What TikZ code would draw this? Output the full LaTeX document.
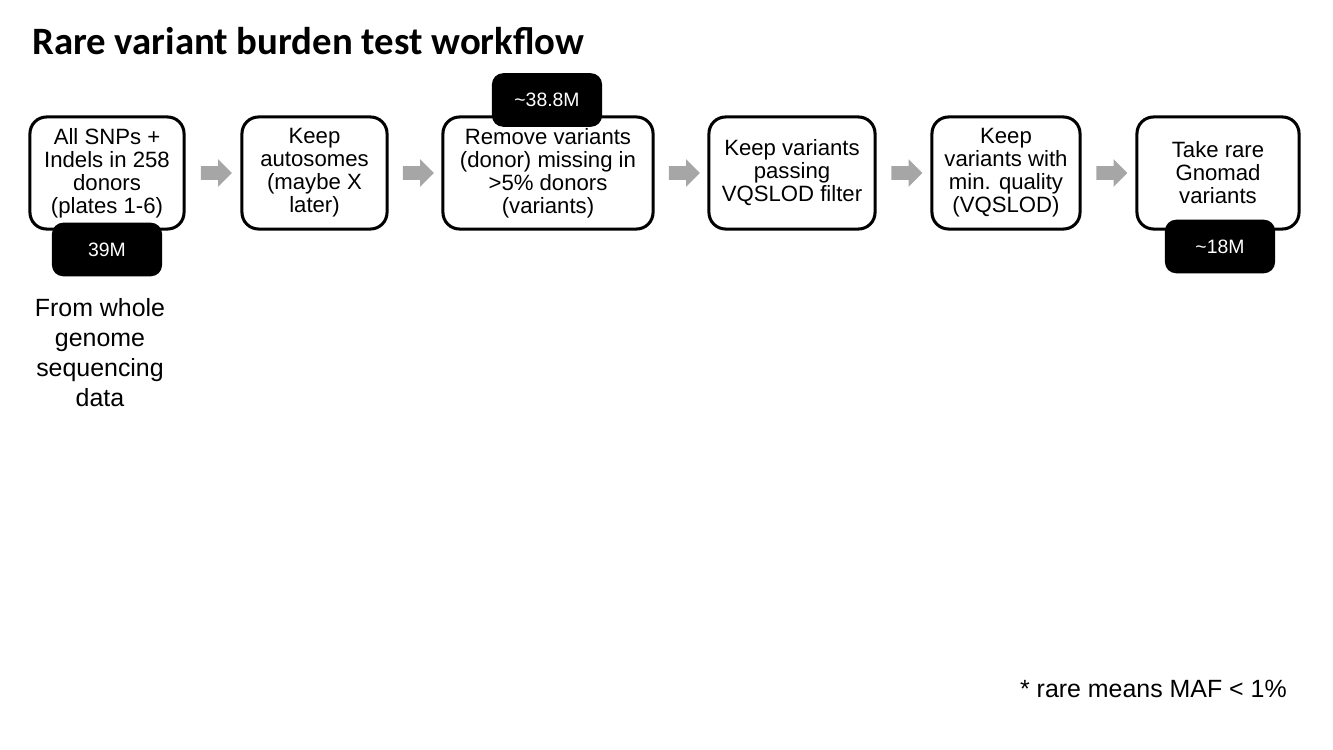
\documentclass[tikz,border=0pt]{standalone}
\usepackage{fontspec}
\setmainfont{Liberation Sans}
\newfontfamily\titlefont{Carlito}
\usetikzlibrary{shapes.arrows,calc}
\definecolor{arrowgray}{HTML}{A6A6A6}
\tikzset{
  stepbox/.style={draw=black, line width=2.2pt, rounded corners=12pt, fill=white,
    align=center, inner sep=0pt, minimum height=1.12in,
    font=\fontsize{16}{16.6}\selectfont},
  countbox/.style={fill=black, text=white, rounded corners=8pt, inner sep=0pt,
    minimum width=1.10in, minimum height=0.535in,
    font=\fontsize{14}{16}\selectfont},
  flowarrow/.style={single arrow, fill=arrowgray, draw=none, inner sep=0pt,
    single arrow head extend=0.07in,
    minimum height=0.31in, shape border rotate=0}
}
\begin{document}
\begin{tikzpicture}[x=0.01in,y=-0.01in]
\useasboundingbox (0,0) rectangle (1333,750);
\node[anchor=base west, inner sep=0pt, font=\titlefont\bfseries\fontsize{28}{32}\selectfont] (title) at (32,55) {Rare variant burden test workflow};

\node[stepbox, minimum width=1.54in] (b1) at (107,173) {All SNPs +\\Indels in 258\\donors\\(plates 1-6)};
\node[stepbox, minimum width=1.45in] (b2) at (314.5,173) {Keep\\autosomes\\(maybe X\\later)};
\node[stepbox, minimum width=2.10in] (b3) at (548,173) {Remove variants\\(donor) missing in\\>5\% donors\\(variants)};
\node[stepbox, minimum width=1.66in] (b4) at (792,173) {Keep variants\\passing\\VQSLOD filter};
\node[stepbox, minimum width=1.48in] (b5) at (1006,173) {Keep\\variants with\\min. quality\\(VQSLOD)};
\node[stepbox, minimum width=1.62in] (b6) at (1218,173) {Take rare\\Gnomad\\variants};

\node[flowarrow] (a1) at ($(b1.east)!0.5!(b2.west)$) {\rule{0pt}{0.13in}};
\node[flowarrow] (a2) at ($(b2.east)!0.5!(b3.west)$) {\rule{0pt}{0.13in}};
\node[flowarrow] (a3) at ($(b3.east)!0.5!(b4.west)$) {\rule{0pt}{0.13in}};
\node[flowarrow] (a4) at ($(b4.east)!0.5!(b5.west)$) {\rule{0pt}{0.13in}};
\node[flowarrow] (a5) at ($(b5.east)!0.5!(b6.west)$) {\rule{0pt}{0.13in}};

\node[countbox] (c1) at (107,249.5) {39M};
\node[countbox] (c3) at (547,100) {\textasciitilde38.8M};
\node[countbox] (c6) at (1220,246.5) {\textasciitilde18M};

\node[anchor=north, align=center, inner sep=0pt, font=\fontsize{18}{21.6}\selectfont] (src) at (100,298) {From whole\\genome\\sequencing\\data};

\node[anchor=base east, inner sep=0pt, font=\fontsize{18}{21}\selectfont] (note) at (1287,698) {* rare means MAF < 1\%};
\end{tikzpicture}
\end{document}
